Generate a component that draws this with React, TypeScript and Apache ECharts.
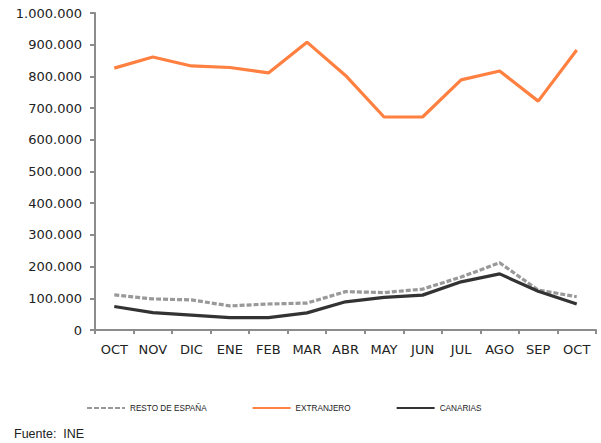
import React, { useEffect, useRef } from "react";
import * as echarts from "echarts";

const months = ["OCT", "NOV", "DIC", "ENE", "FEB", "MAR", "ABR", "MAY", "JUN", "JUL", "AGO", "SEP", "OCT"];
const restoEspana = [111000, 98000, 95000, 76000, 82000, 85000, 121000, 118000, 129000, 167000, 212000, 126000, 105000];
const extranjero = [826000, 861000, 833000, 828000, 811000, 908000, 803000, 672000, 672000, 789000, 817000, 722000, 883000];
const canarias = [74000, 55000, 47000, 39000, 39000, 54000, 89000, 103000, 110000, 152000, 177000, 122000, 82000];
const seriesNames = ["RESTO DE ESPAÑA", "EXTRANJERO", "CANARIAS"];

const fmt = (v: number) => (v === 0 ? "0" : String(v).replace(/\B(?=(\d{3})+(?!\d))/g, "."));

export default function App() {
  const ref = useRef<HTMLDivElement>(null);
  useEffect(() => {
    const chart = echarts.init(ref.current!, null, { renderer: "svg" });
    const axisColor = "#8c8c8c";
    chart.setOption({
      animation: false,
      backgroundColor: "#ffffff",
      grid: { left: 95, right: 5, top: 13, bottom: 113, containLabel: false },
      legend: {
        data: seriesNames,
        left: 81,
        top: 399,
        itemWidth: 38,
        itemHeight: 10,
        itemGap: 45,
        itemStyle: { opacity: 0 },
        textStyle: { fontFamily: "Liberation Sans", fontSize: 8.2, color: "#222" },
      },
      xAxis: {
        type: "category",
        data: months,
        boundaryGap: true,
        axisLine: { lineStyle: { color: axisColor, width: 2 } },
        axisTick: { show: true, length: 4, lineStyle: { color: axisColor, width: 2 } },
        axisLabel: { margin: 13, fontFamily: "DejaVu Sans", fontSize: 13, color: "#222" },
      },
      yAxis: {
        type: "value",
        min: 0,
        max: 1000000,
        interval: 100000,
        splitLine: { show: false },
        axisLine: { show: true, lineStyle: { color: axisColor, width: 2 } },
        axisTick: { show: true, length: 5, lineStyle: { color: axisColor, width: 2 } },
        axisLabel: {
          margin: 13,
          fontFamily: "DejaVu Sans",
          fontSize: 13,
          color: "#222",
          formatter: (v: number) => fmt(v),
        },
      },
      series: [
        {
          name: seriesNames[0],
          type: "line",
          data: restoEspana,
          symbol: "none",
          color: "#999999",
          lineStyle: { color: "#999999", width: 3.2, type: [5, 2] },
        },
        {
          name: seriesNames[1],
          type: "line",
          data: extranjero,
          symbol: "none",
          color: "#ff8040",
          lineStyle: { color: "#ff8040", width: 3.2 },
        },
        {
          name: seriesNames[2],
          type: "line",
          data: canarias,
          symbol: "none",
          color: "#333333",
          lineStyle: { color: "#333333", width: 3.2 },
        },
      ],
      graphic: [
        {
          type: "text",
          left: 14,
          top: 427,
          style: { text: "Fuente:  INE", fontFamily: "Liberation Sans", fontSize: 12.5, fill: "#222" },
        },
      ],
    });
    return () => chart.dispose();
  }, []);
  return <div ref={ref} style={{ width: 601, height: 443, position: "absolute", left: 0, top: 0 }} />;
}
